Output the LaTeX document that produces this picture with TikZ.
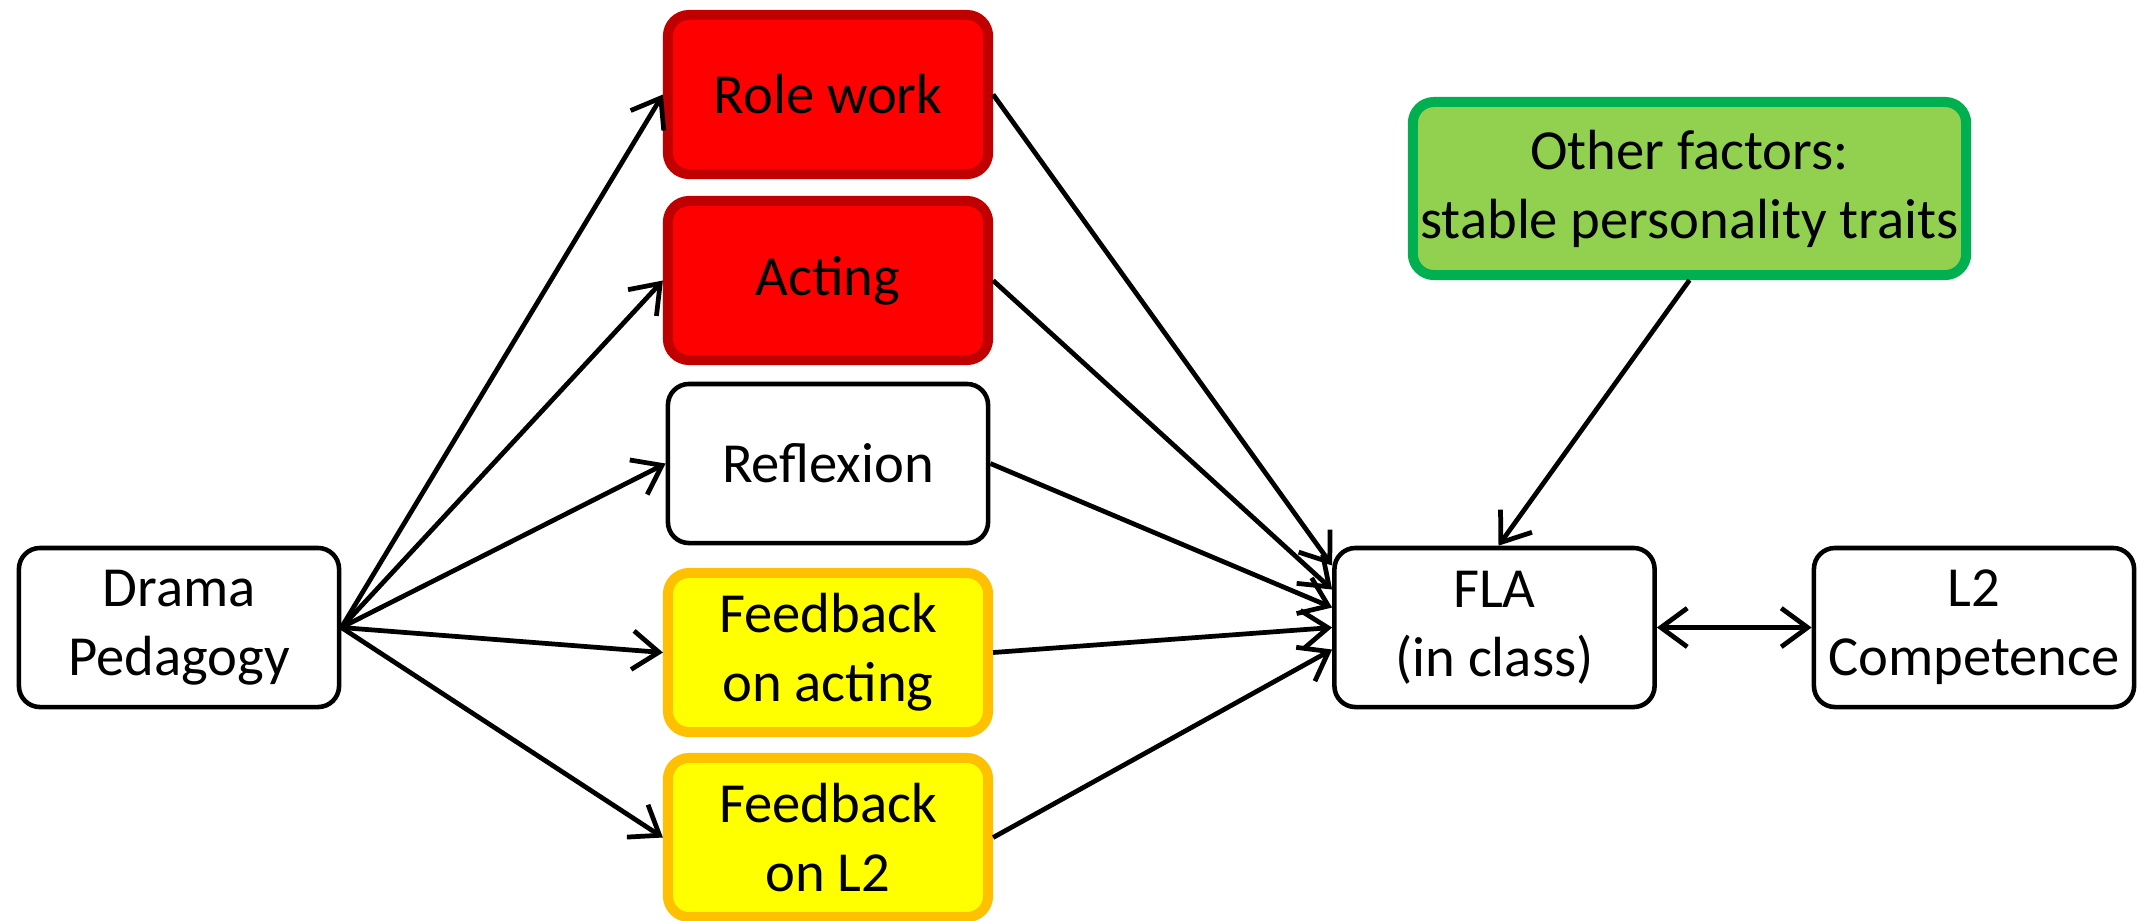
\documentclass[tikz,border=0pt]{standalone}
\usepackage{fontspec}
\setmainfont{Carlito}
\usetikzlibrary{arrows.meta,calc}
\definecolor{redfill}{HTML}{FF0000}
\definecolor{redline}{HTML}{C00000}
\definecolor{yelfill}{HTML}{FFFF00}
\definecolor{yelline}{HTML}{FFC000}
\definecolor{grnfill}{HTML}{92D050}
\definecolor{grnline}{HTML}{00B050}
\begin{document}
\begin{tikzpicture}[x=0.01cm,y=-0.01cm,
  box/.style={draw=black, line width=1.3pt, rounded corners=6pt, fill=white,
    minimum width=3.2cm, minimum height=1.59cm, align=center, inner sep=0pt,
    font=\fontsize{16.1}{19.6}\selectfont},
  redbox/.style={box, draw=redline, fill=redfill, line width=2.85pt},
  yelbox/.style={box, draw=yelline, fill=yelfill, line width=2.85pt},
  grnbox/.style={box, draw=grnline, fill=grnfill, line width=2.85pt,
    minimum width=5.53cm, minimum height=1.73cm},
  tip/.tip={Straight Barb[length=7.5pt,width=11pt]},
  conn/.style={-tip, line width=1.35pt},
  biconn/.style={tip-tip, line width=1.35pt}
]
\useasboundingbox (0,0) rectangle (2139,920);

% left source node
\node[box] (dp) at (179,627.5) {Drama\\Pedagogy};

% middle column of components
\node[redbox] (rw) at (828,94.5) {Role work};
\node[redbox] (ac) at (828,280.5) {Acting};
\node[box]    (rf) at (828,463.5) {Reflexion};
\node[yelbox] (fa) at (828,652.5) {Feedback\\on acting};
\node[yelbox] (fl) at (828,837.5) {Feedback\\on L2};

% right side
\node[box] (fla) at (1494.5,627.5) {FLA\\(in class)};
\node[box] (l2) at (1974,627.5) {L2\\Competence};
\node[grnbox] (of) at (1689.5,188.5) {Other factors:\\stable personality traits};

% entry points on the FLA box
\coordinate (in1) at ($(fla.west)+(0,-62)$);
\coordinate (in2) at ($(fla.west)+(0,-38)$);
\coordinate (in3) at ($(fla.west)+(0,-20)$);
\coordinate (in4) at ($(fla.west)+(0,0)$);
\coordinate (in5) at ($(fla.west)+(0,22)$);

% source to components
\draw[conn] (dp.east) -- (rw.west);
\draw[conn] (dp.east) -- (ac.west);
\draw[conn] (dp.east) -- (rf.west);
\draw[conn] (dp.east) -- (fa.west);
\draw[conn] (dp.east) -- (fl.west);

% components to FLA
\draw[conn] (rw.east) -- (in1);
\draw[conn] (ac.east) -- (in2);
\draw[conn] (rf.east) -- (in3);
\draw[conn] (fa.east) -- (in4);
\draw[conn] (fl.east) -- (in5);

% other factors and outcome
\draw[conn] (of.south) -- ($(fla.north)+(4,0)$);
\draw[biconn] (fla.east) -- (l2.west);
\end{tikzpicture}
\end{document}
